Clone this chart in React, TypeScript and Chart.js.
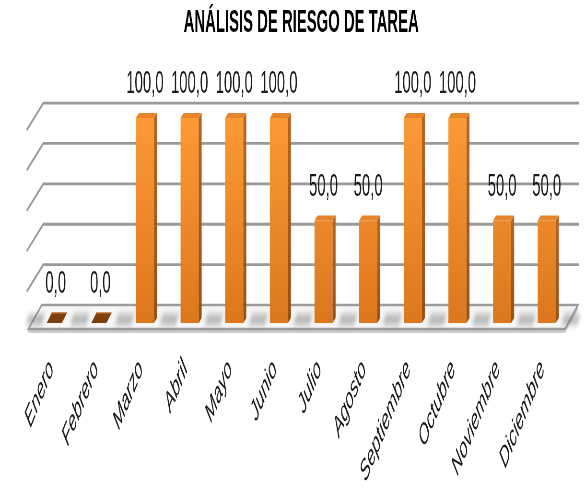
import React, { useEffect, useRef } from 'react';
import { Chart, registerables } from 'chart.js';

Chart.register(...registerables);

// ---------- data ----------
const CATEGORIES = [
  'Enero', 'Febrero', 'Marzo', 'Abril', 'Mayo', 'Junio',
  'Julio', 'Agosto', 'Septiembre', 'Octubre', 'Noviembre', 'Diciembre',
];
const VALUES = [0, 0, 100, 100, 100, 100, 50, 50, 100, 100, 50, 50];
const GRID_VALUES = [20, 40, 60, 80, 100];
const TITLE = 'ANÁLISIS DE RIESGO DE TAREA';

// ---------- geometry (internal canvas is wider, squeezed by CSS) ----------
const W = 1220;
const H = 488;
const DISPLAY_W = 585;
const K = DISPLAY_W / W;
const X = (d: number) => d / K;

const FONT = "'Liberation Sans', Arial, sans-serif";

const fmt = (v: number) => v.toFixed(1).replace('.', ',');

const scenePlugin = {
  id: 'scene3d',
  beforeDatasetsDraw(chart: any) {
    const { ctx, scales } = chart;
    const xs = scales.x;
    const ys = scales.y;
    const base = ys.getPixelForValue(0);
    const backY = base - 18;
    const frontY = base + 6;

    ctx.save();
    // floor thickness
    ctx.beginPath();
    ctx.moveTo(X(28.3), frontY);
    ctx.lineTo(X(565), frontY);
    ctx.lineTo(X(578), backY + 1);
    ctx.lineTo(X(578), backY + 5);
    ctx.lineTo(X(565), frontY + 4);
    ctx.lineTo(X(28.3), frontY + 4);
    ctx.closePath();
    ctx.fillStyle = '#cccccc';
    ctx.fill();

    // floor top
    ctx.beginPath();
    ctx.moveTo(X(41.7), backY);
    ctx.lineTo(X(578), backY);
    ctx.lineTo(X(565), frontY);
    ctx.lineTo(X(28.3), frontY);
    ctx.closePath();
    ctx.fillStyle = '#f6f6f6';
    ctx.fill();
    ctx.lineWidth = 2.5;
    ctx.strokeStyle = '#9c9c9c';
    ctx.stroke();

    // shadows on the floor at category boundaries
    const half = (xs.getPixelForValue(1) - xs.getPixelForValue(0)) / 2;
    ctx.save();
    ctx.filter = 'blur(3px)';
    ctx.fillStyle = 'rgba(110,110,110,0.45)';
    for (let i = 0; i <= CATEGORIES.length; i++) {
      const xb = xs.getPixelForValue(0) - half + i * 2 * half;
      const w = X(8);
      ctx.beginPath();
      ctx.moveTo(xb - w + 8, base - 9);
      ctx.lineTo(xb + w + 8, base - 9);
      ctx.lineTo(xb + w, base + 2);
      ctx.lineTo(xb - w, base + 2);
      ctx.closePath();
      ctx.fill();
    }
    ctx.restore();

    // back wall gridlines with left side-wall diagonals
    ctx.lineWidth = 2.8;
    ctx.strokeStyle = '#999999';
    GRID_VALUES.forEach((v) => {
      const gy = backY - (base - ys.getPixelForValue(v)) * 0.985;
      ctx.beginPath();
      ctx.moveTo(X(26.7), gy + 27);
      ctx.lineTo(X(43.3), gy);
      ctx.lineTo(X(579), gy);
      ctx.stroke();
    });
    ctx.restore();
  },
  afterDatasetsDraw(chart: any) {
    const { ctx, scales } = chart;
    const ys = scales.y;
    const base = ys.getPixelForValue(0);
    const meta = chart.getDatasetMeta(0);
    const s = X(3);
    const c = 5;
    ctx.save();
    meta.data.forEach((bar: any, i: number) => {
      const v = VALUES[i];
      const x0 = bar.x - bar.width / 2;
      const x1 = bar.x + bar.width / 2;
      const top = bar.y;
      let labelY;
      if (v > 0) {
        // side face
        const sg = ctx.createLinearGradient(0, top, 0, base);
        sg.addColorStop(0, '#B8641E');
        sg.addColorStop(1, '#97500F');
        ctx.beginPath();
        ctx.moveTo(x1, top);
        ctx.lineTo(x1 + s, top - c);
        ctx.lineTo(x1 + s, base - c);
        ctx.lineTo(x1, base);
        ctx.closePath();
        ctx.fillStyle = sg;
        ctx.fill();
        // top cap
        ctx.beginPath();
        ctx.moveTo(x0, top);
        ctx.lineTo(x0 + s, top - c);
        ctx.lineTo(x1 + s, top - c);
        ctx.lineTo(x1, top);
        ctx.closePath();
        ctx.fillStyle = '#E5842B';
        ctx.fill();
        labelY = top - c - 20;
      } else {
        // flat tile for zero values
        const sh = X(5);
        ctx.beginPath();
        ctx.moveTo(x0, base);
        ctx.lineTo(x1 - 6, base);
        ctx.lineTo(x1 - 6 + sh, base - 10);
        ctx.lineTo(x0 + sh, base - 10);
        ctx.closePath();
        ctx.fillStyle = '#7B3F10';
        ctx.fill();
        ctx.beginPath();
        ctx.moveTo(x0 + sh, base - 10);
        ctx.lineTo(x1 - 6 + sh, base - 10);
        ctx.lineWidth = 1.5;
        ctx.strokeStyle = '#B76A2C';
        ctx.stroke();
        labelY = base - 10 - 20;
      }
      ctx.font = `31px ${FONT}`;
      ctx.fillStyle = '#1a1a1a';
      ctx.textAlign = 'center';
      ctx.textBaseline = 'alphabetic';
      ctx.fillText(fmt(v), bar.x, labelY);
    });
    ctx.restore();
  },
};

export default function App() {
  const ref = useRef<HTMLCanvasElement>(null);

  useEffect(() => {
    const canvas = ref.current;
    if (!canvas) return;
    const chart = new Chart(canvas, {
      type: 'bar',
      data: {
        labels: CATEGORIES,
        datasets: [
          {
            data: VALUES,
            backgroundColor: (c: any) => {
              const { chart: ch } = c;
              const area = ch.chartArea;
              if (!area) return '#F08A24';
              const g = ch.ctx.createLinearGradient(0, area.top, 0, area.bottom);
              g.addColorStop(0, '#FC9A36');
              g.addColorStop(1, '#DD771E');
              return g;
            },
            borderWidth: 0,
            barPercentage: 0.405,
            categoryPercentage: 1,
          },
        ],
      },
      options: {
        responsive: false,
        devicePixelRatio: 1,
        animation: false,
        layout: { padding: { left: 69.6, right: 33.3, top: 0, bottom: 0 } },
        plugins: {
          legend: { display: false },
          tooltip: { enabled: false },
          title: {
            display: true,
            text: TITLE,
            color: '#000',
            font: { family: FONT, size: 31, weight: 'bold', lineHeight: 1.2 },
            padding: { top: 5, bottom: 75.8 },
          },
        },
        scales: {
          x: {
            grid: { display: false, drawTicks: false },
            border: { display: false },
            ticks: {
              autoSkip: false,
              maxRotation: 50,
              minRotation: 50,
              padding: 30,
              labelOffset: -9,
              color: '#1a1a1a',
              font: { family: FONT, size: 29, style: 'italic' },
            },
            afterFit: (scale: any) => {
              scale.height = 165;
            },
          },
          y: {
            display: false,
            min: 0,
            max: 100,
          },
        },
      },
      plugins: [scenePlugin],
    } as any);
    return () => chart.destroy();
  }, []);

  return (
    <div style={{ position: 'fixed', left: 0, top: 0, width: DISPLAY_W, height: H, background: '#fff' }}>
      <canvas ref={ref} width={W} height={H} style={{ width: `${DISPLAY_W}px`, height: `${H}px`, display: 'block' }} />
    </div>
  );
}
